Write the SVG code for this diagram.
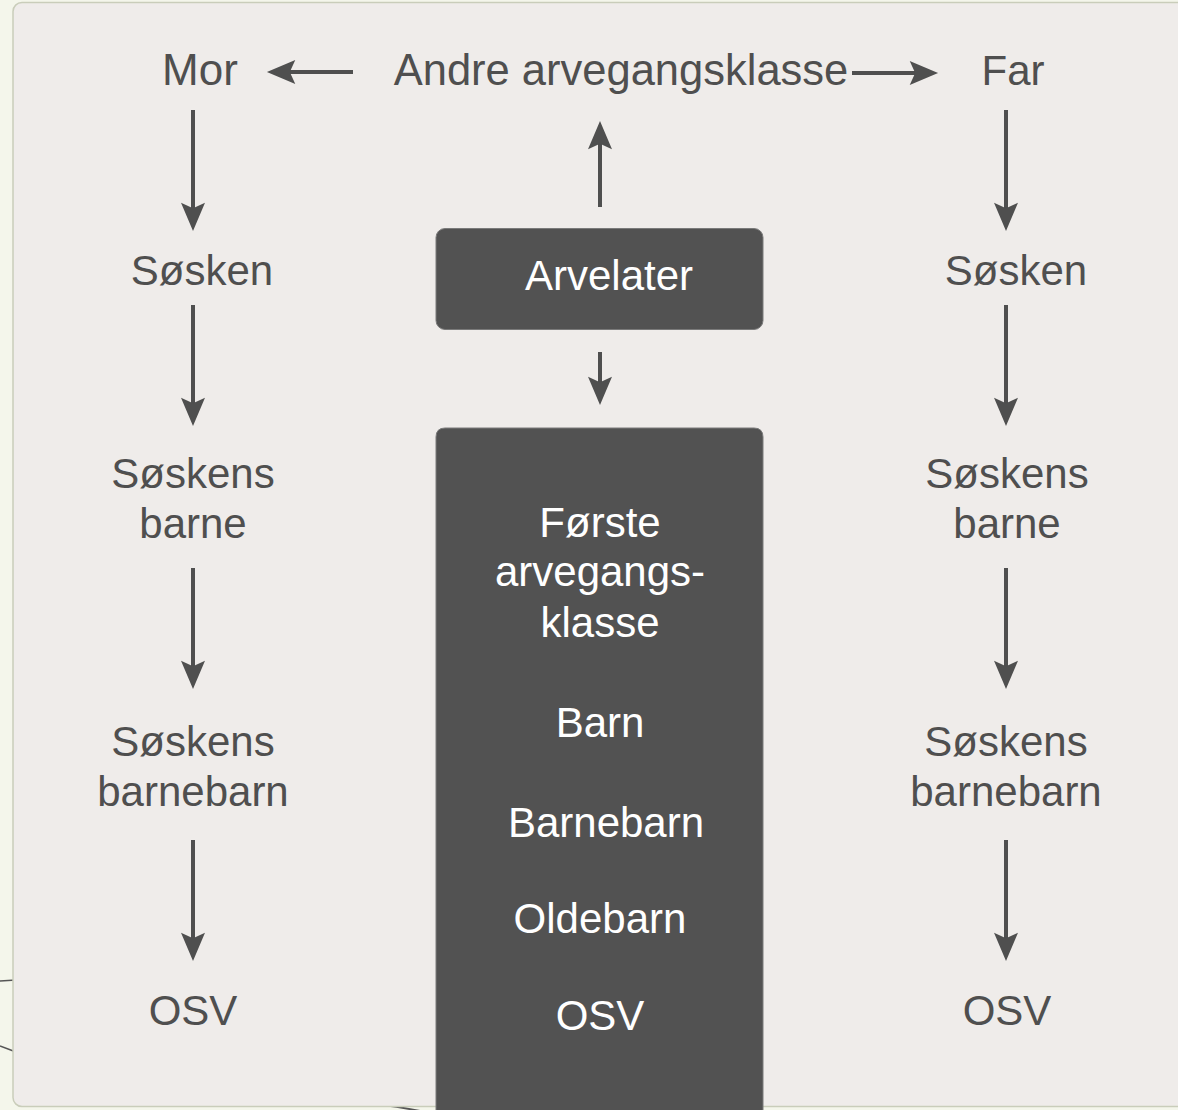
<svg xmlns="http://www.w3.org/2000/svg" width="1178" height="1110" viewBox="0 0 1178 1110">
  <style>
    .t { font-family: "Liberation Sans", Arial, sans-serif; font-size: 42px; fill: #4f4f4f; text-anchor: middle; }
    .w { fill: #ffffff; }
    .box { fill: #525252; stroke: #7a7a7a; stroke-width: 1; }
    .c { stroke: #4f4f4f; stroke-width: 4; fill: none; marker-end: url(#ah); }
    .deco { stroke: #555555; fill: none; }
  </style>
  <defs>
    <marker id="ah" markerUnits="userSpaceOnUse" markerWidth="30" markerHeight="24" viewBox="0 0 26 22" refX="14" refY="11" orient="auto">
      <path d="M0,0 L26,11 L0,22 L5,11 z" fill="#4f4f4f"/>
    </marker>
  </defs>

  <rect x="0" y="0" width="1178" height="1110" fill="#f4f6eb"/>
  <g id="decoration">
    <path class="deco" stroke-width="1.5" d="M0,981 Q8,980.5 16,980"/>
    <path class="deco" stroke-width="1.5" d="M0,1046 Q8,1049 16,1052"/>
    <path class="deco" stroke-width="2" d="M355,1102 Q390,1105 420,1111"/>
  </g>
  <rect id="panel" x="13" y="2.5" width="1180" height="1104" rx="9" fill="#efecea" stroke="#c9cdba" stroke-width="1.5"/>

  <g id="connectors">
    <line class="c" x1="353" y1="72" x2="280" y2="72"/>
    <line class="c" x1="852" y1="73" x2="925" y2="73"/>
    <line class="c" x1="600" y1="207" x2="600" y2="134"/>
    <line class="c" x1="600" y1="352" x2="600" y2="392"/>
    <line class="c" x1="193" y1="110" x2="193" y2="218"/>
    <line class="c" x1="193" y1="305" x2="193" y2="413"/>
    <line class="c" x1="193" y1="568" x2="193" y2="676"/>
    <line class="c" x1="193" y1="840" x2="193" y2="948"/>
    <line class="c" x1="1006" y1="110" x2="1006" y2="218"/>
    <line class="c" x1="1006" y1="305" x2="1006" y2="413"/>
    <line class="c" x1="1006" y1="568" x2="1006" y2="676"/>
    <line class="c" x1="1006" y1="840" x2="1006" y2="948"/>
  </g>

  <g id="andre"><text class="t" x="621" y="85" style="font-size:43.5px">Andre arvegangsklasse</text></g>
  <g id="mor"><text class="t" x="200" y="85" style="font-size:44px">Mor</text></g>
  <g id="far"><text class="t" x="1013" y="85">Far</text></g>

  <g id="arvelater">
    <rect class="box" x="436" y="228.5" width="327" height="101" rx="9"/>
    <text class="t w" x="609" y="290">Arvelater</text>
  </g>

  <g id="forste">
    <path class="box" d="M436,1112 L436,437 Q436,428 445,428 L754,428 Q763,428 763,437 L763,1112"/>
    <text class="t w" x="600" y="537">Første</text>
    <text class="t w" x="600" y="586">arvegangs-</text>
    <text class="t w" x="600" y="637">klasse</text>
    <text class="t w" x="600" y="737">Barn</text>
    <text class="t w" x="606" y="837">Barnebarn</text>
    <text class="t w" x="600" y="933">Oldebarn</text>
    <text class="t w" x="600" y="1030">OSV</text>
  </g>

  <g id="mor-sosken"><text class="t" x="202" y="285">Søsken</text></g>
  <g id="mor-soskens-barne"><text class="t" x="193" y="488">Søskens</text><text class="t" x="193" y="538">barne</text></g>
  <g id="mor-soskens-barnebarn"><text class="t" x="193" y="756">Søskens</text><text class="t" x="193" y="806">barnebarn</text></g>
  <g id="mor-osv"><text class="t" x="193" y="1025">OSV</text></g>

  <g id="far-sosken"><text class="t" x="1016" y="285">Søsken</text></g>
  <g id="far-soskens-barne"><text class="t" x="1007" y="488">Søskens</text><text class="t" x="1007" y="538">barne</text></g>
  <g id="far-soskens-barnebarn"><text class="t" x="1006" y="756">Søskens</text><text class="t" x="1006" y="806">barnebarn</text></g>
  <g id="far-osv"><text class="t" x="1007" y="1025">OSV</text></g>
</svg>
